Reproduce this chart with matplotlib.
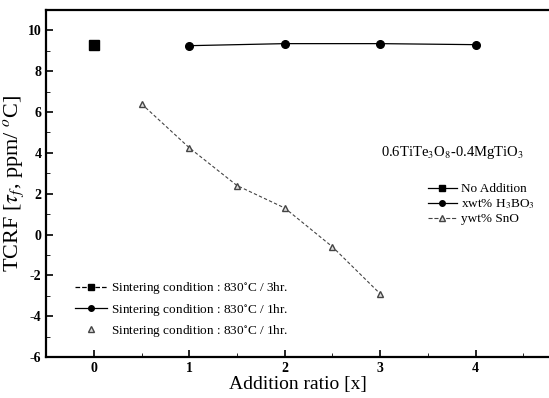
import matplotlib
matplotlib.use("Agg")
import matplotlib.pyplot as plt
from matplotlib.lines import Line2D
from matplotlib.ticker import MultipleLocator

plt.rcParams['font.family'] = ['Liberation Serif', 'DejaVu Serif']
plt.rcParams['mathtext.fontset'] = 'stix'
plt.rcParams['axes.unicode_minus'] = False

# data
x_none = [0]
y_none = [9.3]
x_hbo = [1, 2, 3, 4]
y_hbo = [9.25, 9.35, 9.35, 9.3]
x_sno = [0.5, 1.0, 1.5, 2.0, 2.5, 3.0]
y_sno = [6.4, 4.25, 2.4, 1.3, -0.6, -2.9]

xticks = [0, 1, 2, 3, 4]
yticks = [-6, -4, -2, 0, 2, 4, 6, 8, 10]

fig = plt.figure(figsize=(5.49, 3.98), dpi=100)
ax = fig.add_axes([0.084, 0.103, 0.916, 0.872])

ax.plot(x_none, y_none, 's', color='black', ms=6.5)
ax.plot(x_hbo, y_hbo, '-o', color='black', lw=0.9, ms=5.5)
ax.plot(x_sno, y_sno, '--^', color='#444444', lw=0.8, ms=5,
        mfc='#dddddd', mec='#444444', dashes=(3, 2))

ax.set_xlim(-0.5, 4.77)
ax.set_ylim(-6, 11)
ax.set_xticks(xticks)
ax.set_yticks(yticks)
ax.xaxis.set_minor_locator(MultipleLocator(0.5))
ax.yaxis.set_minor_locator(MultipleLocator(1))
ax.tick_params(which='both', direction='in', labelsize=10)
ax.tick_params(which='major', length=5, width=1.2)
ax.tick_params(which='minor', length=3)
for lab in ax.get_xticklabels() + ax.get_yticklabels():
    lab.set_fontweight('bold')
ax.spines['right'].set_visible(False)
for s in ['left', 'bottom', 'top']:
    ax.spines[s].set_linewidth(1.6)

ax.set_xlabel('Addition ratio [x]', fontsize=14, labelpad=1)
ax.set_ylabel(r'TCRF [$\tau_f$, ppm/ $^o$C]', fontsize=16, labelpad=1)

ax.text(3.76, 4.0, r'0.6TiTe$_3$O$_8$-0.4MgTiO$_3$', fontsize=10.5,
        ha='center', va='center')

h1 = [Line2D([], [], color='black', marker='s', ms=4, lw=0.9),
      Line2D([], [], color='black', marker='o', ms=4, lw=0.9),
      Line2D([], [], color='#444444', marker='^', ms=4, lw=0.8,
             ls='--', mfc='#dddddd')]
leg1 = ax.legend(h1, ['No Addition', r'xwt% H$_3$BO$_3$', 'ywt% SnO'],
                 loc='upper left', bbox_to_anchor=(0.746, 0.52), frameon=False,
                 fontsize=9.5, handlelength=2.2, handletextpad=0.3,
                 labelspacing=0.15, borderpad=0)
ax.add_artist(leg1)

h2 = [Line2D([], [], color='black', marker='s', ms=4, lw=0.9, ls='--'),
      Line2D([], [], color='black', marker='o', ms=4, lw=0.9),
      Line2D([], [], color='#444444', marker='^', ms=4, lw=0,
             mfc='#dddddd')]
ax.legend(h2, [r'Sintering condition : 830$^{\circ}$C / 3hr.',
               r'Sintering condition : 830$^{\circ}$C / 1hr.',
               r'Sintering condition : 830$^{\circ}$C / 1hr.'],
          loc='upper left', bbox_to_anchor=(0.045, 0.24), frameon=False,
          fontsize=9.5, handlelength=2.4, handletextpad=0.3,
          labelspacing=0.4, borderpad=0)

fig.savefig('out.png', dpi=100)
